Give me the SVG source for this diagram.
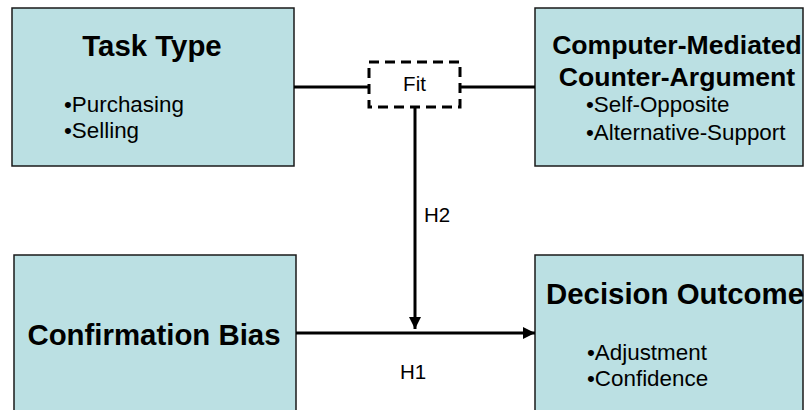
<svg xmlns="http://www.w3.org/2000/svg" width="804" height="410" viewBox="0 0 804 410">
  <defs>
    <marker id="arrow" viewBox="0 0 10 10" refX="10" refY="5" markerWidth="4" markerHeight="4" orient="auto" markerUnits="strokeWidth">
      <path d="M0,0 L10,5 L0,10 z" fill="#000"/>
    </marker>
    <style>
      .box { fill: #BBE0E3; stroke: #1a1a1a; stroke-width: 1.5; }
      .title { font-family: "Liberation Sans", Arial, sans-serif; font-weight: bold; font-size: 29.4px; fill: #000; }
      .title2 { font-family: "Liberation Sans", Arial, sans-serif; font-weight: bold; font-size: 26.6px; fill: #000; }
      .item { font-family: "Liberation Sans", Arial, sans-serif; font-size: 22.4px; fill: #000; }
      .lbl { font-family: "Liberation Sans", Arial, sans-serif; font-size: 20.5px; fill: #000; }
      .wire { fill: none; stroke: #000; stroke-width: 3; }
    </style>
  </defs>
  <rect width="804" height="410" fill="#fff"/>

  <g id="task-type">
    <rect class="box" x="12" y="8" width="282" height="158"/>
    <text class="title" x="152" y="56" text-anchor="middle">Task Type</text>
    <text class="item" x="64" y="112">•Purchasing</text>
    <text class="item" x="64" y="138">•Selling</text>
  </g>

  <g id="counter-argument">
    <rect class="box" x="535" y="8" width="268" height="158"/>
    <text class="title2" x="677" y="54" text-anchor="middle">Computer-Mediated</text>
    <text class="title2" x="677" y="86" text-anchor="middle">Counter-Argument</text>
    <text class="item" x="586" y="112">•Self-Opposite</text>
    <text class="item" x="586" y="140">•Alternative-Support</text>
  </g>

  <g id="confirmation-bias">
    <rect class="box" x="14" y="255" width="282" height="170"/>
    <text class="title" x="154" y="345" text-anchor="middle">Confirmation Bias</text>
  </g>

  <g id="decision-outcome">
    <rect class="box" x="535" y="255" width="268" height="170"/>
    <text class="title" x="675" y="304" text-anchor="middle">Decision Outcome</text>
    <text class="item" x="587" y="360">•Adjustment</text>
    <text class="item" x="587" y="386">•Confidence</text>
  </g>

  <g id="fit">
    <rect x="369" y="62" width="91" height="45" fill="#fff" stroke="#000" stroke-width="3" stroke-dasharray="10,6"/>
    <text class="lbl" x="414.5" y="91" text-anchor="middle">Fit</text>
  </g>

  <g id="connectors">
    <line class="wire" x1="294" y1="87" x2="369" y2="87"/>
    <line class="wire" x1="460" y1="87" x2="535" y2="87"/>
    <line class="wire" x1="415" y1="107" x2="415" y2="329" marker-end="url(#arrow)"/>
    <line class="wire" x1="296" y1="333" x2="535" y2="333" marker-end="url(#arrow)"/>
    <text class="lbl" x="424" y="222">H2</text>
    <text class="lbl" x="400" y="379">H1</text>
  </g>
</svg>
